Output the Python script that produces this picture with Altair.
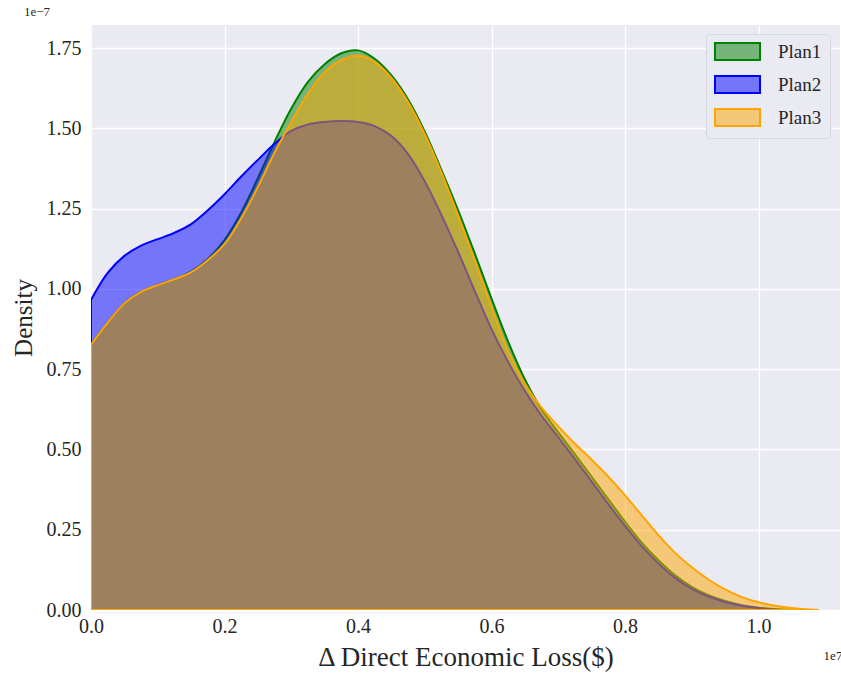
import altair as alt
import pandas as pd

# Kernel density estimates of the change in direct economic loss.
# Loss in units of 1e7 $, density in units of 1e-7.
plans = ["Plan1", "Plan2", "Plan3"]

loss_p1 = [0.000, 0.025, 0.050, 0.075, 0.100, 0.125, 0.150, 0.175, 0.200, 0.225,
           0.250, 0.275, 0.300, 0.325, 0.350, 0.375, 0.400, 0.425, 0.450, 0.475,
           0.500, 0.525, 0.550, 0.575, 0.600, 0.625, 0.650, 0.675, 0.700, 0.725,
           0.750, 0.775, 0.800, 0.825, 0.850, 0.875, 0.900, 0.925, 0.950, 0.975,
           1.000, 1.030, 1.060]
dens_p1 = [0.826, 0.895, 0.955, 0.991, 1.012, 1.030, 1.054, 1.093, 1.152, 1.238,
           1.345, 1.458, 1.562, 1.645, 1.700, 1.734, 1.743, 1.717, 1.665, 1.590,
           1.490, 1.370, 1.245, 1.110, 0.970, 0.835, 0.718, 0.625, 0.553, 0.485,
           0.415, 0.345, 0.275, 0.210, 0.155, 0.108, 0.072, 0.046, 0.028, 0.015,
           0.007, 0.002, 0.000]

loss_p2 = [0.000, 0.025, 0.050, 0.075, 0.100, 0.125, 0.150, 0.175, 0.200, 0.225,
           0.250, 0.275, 0.300, 0.325, 0.350, 0.375, 0.400, 0.425, 0.450, 0.475,
           0.500, 0.525, 0.550, 0.575, 0.600, 0.625, 0.650, 0.675, 0.700, 0.725,
           0.750, 0.775, 0.800, 0.825, 0.850, 0.875, 0.900, 0.925, 0.950, 0.975,
           1.000, 1.030]
dens_p2 = [0.966, 1.050, 1.103, 1.135, 1.155, 1.175, 1.202, 1.245, 1.295, 1.350,
           1.402, 1.452, 1.492, 1.512, 1.520, 1.523, 1.520, 1.507, 1.476, 1.420,
           1.335, 1.230, 1.115, 0.993, 0.875, 0.772, 0.682, 0.605, 0.538, 0.470,
           0.400, 0.330, 0.262, 0.199, 0.145, 0.100, 0.066, 0.042, 0.025, 0.013,
           0.006, 0.000]

loss_p3 = [0.000, 0.025, 0.050, 0.075, 0.100, 0.125, 0.150, 0.175, 0.200, 0.225,
           0.250, 0.275, 0.300, 0.325, 0.350, 0.375, 0.400, 0.425, 0.450, 0.475,
           0.500, 0.525, 0.550, 0.575, 0.600, 0.625, 0.650, 0.675, 0.700, 0.725,
           0.750, 0.775, 0.800, 0.825, 0.850, 0.875, 0.900, 0.925, 0.950, 0.975,
           1.000, 1.025, 1.050, 1.090]
dens_p3 = [0.826, 0.895, 0.955, 0.991, 1.012, 1.030, 1.052, 1.090, 1.140, 1.220,
           1.318, 1.425, 1.520, 1.608, 1.675, 1.713, 1.726, 1.707, 1.657, 1.582,
           1.482, 1.362, 1.228, 1.088, 0.943, 0.805, 0.705, 0.630, 0.572, 0.518,
           0.468, 0.415, 0.357, 0.295, 0.233, 0.178, 0.133, 0.095, 0.064, 0.040,
           0.024, 0.013, 0.006, 0.000]

x_ticks = [0.0, 0.2, 0.4, 0.6, 0.8, 1.0]
y_ticks = [0.0, 0.25, 0.5, 0.75, 1.0, 1.25, 1.5, 1.75]

fill_colors = ["rgba(0,128,0,0.5)", "rgba(0,0,255,0.5)", "rgba(255,165,0,0.5)"]
edge_colors = ["green", "blue", "orange"]

rows = []
for plan, xs, ys in zip(plans, [loss_p1, loss_p2, loss_p3], [dens_p1, dens_p2, dens_p3]):
    rows += [{"plan": plan, "loss": x, "density": y} for x, y in zip(xs, ys)]
df = pd.DataFrame(rows)

SERIF = "Liberation Serif"
rect_symbol = "M-2.65,-1L2.65,-1L2.65,1L-2.65,1Z"

legend = alt.Legend(
    title=None, orient="none", legendX=615, legendY=9,
    symbolType=rect_symbol, symbolSize=289, symbolStrokeWidth=2,
    symbolOffset=14, labelOffset=31, rowPadding=8,
    labelFont=SERIF, labelFontSize=19, labelColor="#262626",
    fillColor="#eaeaf2", strokeColor="#d8d8e0", cornerRadius=4, padding=8,
)

areas = alt.Chart(df).mark_area(
    interpolate="catmull-rom", strokeWidth=2, opacity=1, fillOpacity=1, clip=True
).encode(
    x=alt.X("loss:Q",
            scale=alt.Scale(domain=[0, 1.122], nice=False, zero=False),
            axis=alt.Axis(values=x_ticks, format=".1f", labelFlush=False,
                          title="Δ Direct Economic Loss($)", titleFontSize=27)),
    y=alt.Y("density:Q", stack=None,
            scale=alt.Scale(domain=[0, 1.822], nice=False),
            axis=alt.Axis(values=y_ticks, format=".2f", labelFlush=False,
                          title="Density")),
    color=alt.Color("plan:N", scale=alt.Scale(domain=plans, range=fill_colors),
                    legend=legend),
    stroke=alt.Stroke("plan:N", scale=alt.Scale(domain=plans, range=edge_colors),
                      legend=legend),
    order=alt.Order("plan:N"),
)

# Offset labels for the scaled axes
offsets = pd.DataFrame({"label": ["1e\u22127", "1e7"]})
y_offset = alt.Chart(offsets).transform_filter(alt.datum.label == "1e\u22127").mark_text(
    font=SERIF, fontSize=13, color="#262626", align="center", baseline="middle"
).encode(x=alt.value(-54), y=alt.value(-13), text="label:N")
x_offset = alt.Chart(offsets).transform_filter(alt.datum.label == "1e7").mark_text(
    font=SERIF, fontSize=13, color="#262626", align="center", baseline="middle"
).encode(x=alt.value(742), y=alt.value(631), text="label:N")

chart = alt.layer(areas, y_offset, x_offset).properties(
    width=749, height=585,
    autosize=alt.AutoSizeParams(type="none"),
    padding={"left": 91, "top": 25, "right": 1, "bottom": 65},
    background="white",
).configure_view(
    fill="#eaeaf2", stroke=None
).configure_axis(
    domain=False, ticks=False, grid=True, gridColor="white", gridWidth=1.3,
    labelFont=SERIF, labelFontSize=20, labelColor="#262626",
    titleFont=SERIF, titleFontSize=25, titleColor="#262626", titleFontWeight="normal",
).configure_axisX(
    labelPadding=6, titlePadding=8
).configure_axisY(
    labelPadding=10, titlePadding=10
)

chart.save("out.html", embed_options={"renderer": "svg", "actions": False})
